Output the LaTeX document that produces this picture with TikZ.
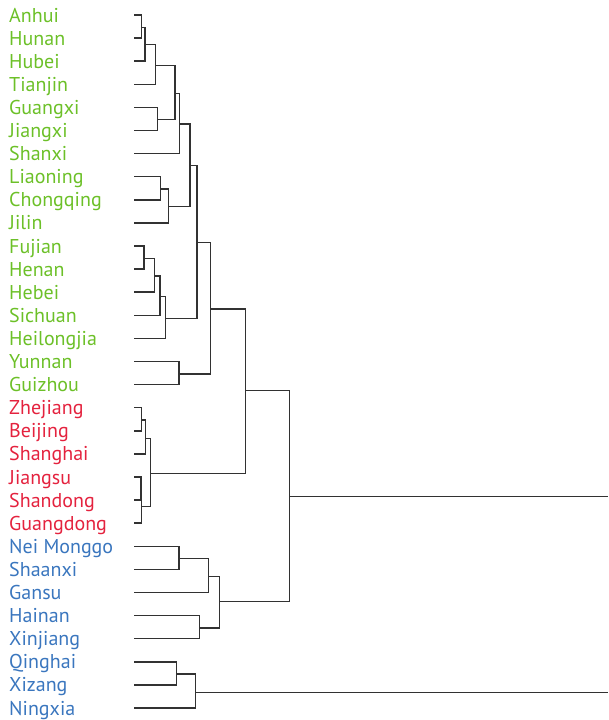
\documentclass[tikz,border=0pt]{standalone}
\usepackage{fontspec}
\setmainfont{PT Sans}
\definecolor{grn}{RGB}{108,192,40}
\definecolor{rd}{RGB}{228,34,62}
\definecolor{blu}{RGB}{58,118,190}
\definecolor{lin}{RGB}{50,50,50}
\begin{document}
\begin{tikzpicture}[x=1pt,y=-1pt,
  lab/.style={anchor=base west,inner sep=0pt,font=\fontsize{20}{20}\selectfont},
  dendro/.style={draw=lin,line width=1.5pt}]
\useasboundingbox (0,0) rectangle (608,720);
% leaves
\foreach \i/\t/\c in {0/Anhui/grn,1/Hunan/grn,2/Hubei/grn,3/Tianjin/grn,4/Guangxi/grn,5/Jiangxi/grn,6/Shanxi/grn,7/Liaoning/grn,8/Chongqing/grn,9/Jilin/grn,10/Fujian/grn,11/Henan/grn,12/Hebei/grn,13/Sichuan/grn,14/Heilongjia/grn,15/Yunnan/grn,16/Guizhou/grn,17/Zhejiang/rd,18/Beijing/rd,19/Shanghai/rd,20/Jiangsu/rd,21/Shandong/rd,22/Guangdong/rd,23/Nei Monggo/blu,24/Shaanxi/blu,25/Gansu/blu,26/Hainan/blu,27/Xinjiang/blu,28/Qinghai/blu,29/Xizang/blu,30/Ningxia/blu}{
  \pgfmathsetmacro\yy{15+23.1*\i}
  \node[lab,text=\c] (n\i) at (9,\yy+7) {\t};
  \coordinate (l\i) at (134,\yy);
}
% internal merge points
\coordinate (A1) at (141.3,27.3);
\coordinate (A2) at (145,44.7);
\coordinate (A3) at (155.7,65.7);
\coordinate (A4) at (157.3,119.3);
\coordinate (A5) at (175,93.3);
\coordinate (A6) at (179.3,124);
\coordinate (A7) at (160.3,189);
\coordinate (A8) at (168.3,206.7);
\coordinate (A9) at (190,165.7);
\coordinate (B1) at (144,258.3);
\coordinate (B2) at (154.7,276);
\coordinate (B3) at (160,296.3);
\coordinate (B4) at (165.3,318.3);
\coordinate (C1) at (197,242.3);
\coordinate (C2) at (179,374);
\coordinate (C3) at (210.3,309);
\coordinate (D1) at (141.3,420);
\coordinate (D2) at (145.3,438.3);
\coordinate (D3) at (140.8,488.6);
\coordinate (D4) at (141.6,506.5);
\coordinate (D5) at (150.7,473.3);
\coordinate (E1) at (245.7,390.7);
\coordinate (F1) at (179,558.7);
\coordinate (F2) at (208.7,576.3);
\coordinate (F3) at (199.3,628);
\coordinate (F4) at (219.7,601.7);
\coordinate (G1) at (289.3,496.5);
\coordinate (H1) at (176.3,674);
\coordinate (H2) at (195.3,692.3);
\coordinate (R1) at (608,496.5);
\coordinate (R2) at (608,692.3);
% connectors
\draw[dendro] (l0) -| (A1) |- (l1);
\draw[dendro] (A1) -| (A2) |- (l2);
\draw[dendro] (A2) -| (A3) |- (l3);
\draw[dendro] (l4) -| (A4) |- (l5);
\draw[dendro] (A3) -| (A5) |- (A4);
\draw[dendro] (A5) -| (A6) |- (l6);
\draw[dendro] (l7) -| (A7) |- (l8);
\draw[dendro] (A7) -| (A8) |- (l9);
\draw[dendro] (A6) -| (A9) |- (A8);
\draw[dendro] (l10) -| (B1) |- (l11);
\draw[dendro] (B1) -| (B2) |- (l12);
\draw[dendro] (B2) -| (B3) |- (l13);
\draw[dendro] (B3) -| (B4) |- (l14);
\draw[dendro] (A9) -| (C1) |- (B4);
\draw[dendro] (l15) -| (C2) |- (l16);
\draw[dendro] (C1) -| (C3) |- (C2);
\draw[dendro] (l17) -| (D1) |- (l18);
\draw[dendro] (D1) -| (D2) |- (l19);
\draw[dendro] (l20) -| (D3) |- (l21);
\draw[dendro] (D3) -| (D4) |- (l22);
\draw[dendro] (D2) -| (D5) |- (D4);
\draw[dendro] (C3) -| (E1) |- (D5);
\draw[dendro] (l23) -| (F1) |- (l24);
\draw[dendro] (F1) -| (F2) |- (l25);
\draw[dendro] (l26) -| (F3) |- (l27);
\draw[dendro] (F2) -| (F4) |- (F3);
\draw[dendro] (E1) -| (G1) |- (F4);
\draw[dendro] (G1) -- (R1);
\draw[dendro] (l28) -| (H1) |- (l29);
\draw[dendro] (H1) -| (H2) |- (l30);
\draw[dendro] (H2) -- (R2);
\end{tikzpicture}
\end{document}
